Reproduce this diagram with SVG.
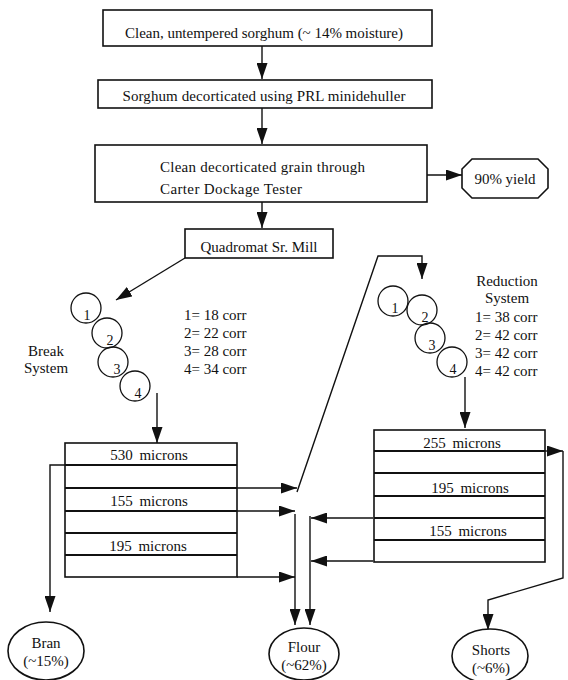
<svg xmlns="http://www.w3.org/2000/svg" width="568" height="680" viewBox="0 0 568 680">
<style>
text{font-family:"Liberation Serif","Times New Roman",serif;font-size:15px;fill:#111}
.b{fill:#fff;stroke:#111;stroke-width:1.6}
.c{fill:none;stroke:#111;stroke-width:1.3}
.l{fill:none;stroke:#111;stroke-width:1.4}
.r{stroke:#111;stroke-width:2.2}
.m{text-anchor:middle}
.n{font-size:14px;text-anchor:middle}
</style>
<defs>
<marker id="a" viewBox="0 0 16 11" refX="16" refY="5.5" markerWidth="16" markerHeight="11" markerUnits="userSpaceOnUse" orient="auto"><path d="M0,0L16,5.5L0,11z" fill="#111"/></marker>
</defs>
<rect width="568" height="680" fill="#fff"/>
<g id="connectors">
<path class="l" d="M262,46V79" marker-end="url(#a)"/>
<path class="l" d="M262,108V144" marker-end="url(#a)"/>
<path class="l" d="M427,175H462" marker-end="url(#a)"/>
<path class="l" d="M262,202V228" marker-end="url(#a)"/>
<path class="l" d="M185,258L116,300" marker-end="url(#a)"/>
<path class="l" d="M157,393V443" marker-end="url(#a)"/>
<path class="l" d="M65,465H50V612" marker-end="url(#a)"/>
<path class="l" d="M237,488H297" marker-end="url(#a)"/>
<path class="l" d="M237,511H295" marker-end="url(#a)"/>
<path class="l" d="M237,577H295" marker-end="url(#a)"/>
<path class="l" d="M297,492L378,256H422V279" marker-end="url(#a)"/>
<path class="l" d="M295,514V625" marker-end="url(#a)"/>
<path class="l" d="M310,516V625" marker-end="url(#a)"/>
<path class="l" d="M373,518H311" marker-end="url(#a)"/>
<path class="l" d="M373,561H311" marker-end="url(#a)"/>
<path class="l" d="M465,377V428" marker-end="url(#a)"/>
<path class="l" d="M545,451H563" marker-end="url(#a)"/>
<path class="l" d="M563,451V578L488,600V630" marker-end="url(#a)"/>
</g>
<g id="n1"><rect class="b" x="103" y="10" width="329" height="36"/><text x="264" y="38" class="m" textLength="278">Clean, untempered sorghum (~ 14% moisture)</text></g>
<g id="n2"><rect class="b" x="98" y="80" width="334" height="28"/><text x="264" y="101" class="m" textLength="283">Sorghum decorticated using PRL minidehuller</text></g>
<g id="n3"><rect class="b" x="95" y="145" width="332" height="57"/><text x="160" y="172" textLength="205">Clean decorticated grain through</text><text x="160" y="194" textLength="142">Carter Dockage Tester</text></g>
<g id="yield"><path class="b" d="M472,159H538L548,169V188L538,198H472L462,188V169Z"/><text x="505" y="184" class="m">90% yield</text></g>
<g id="mill"><rect class="b" x="185" y="229" width="148" height="29"/><text x="259" y="252" class="m">Quadromat Sr. Mill</text></g>
<g id="break">
<circle class="c" cx="86" cy="308" r="15"/><text x="87" y="320" class="n">1</text>
<circle class="c" cx="107" cy="333" r="15"/><text x="110" y="345" class="n">2</text>
<circle class="c" cx="113" cy="362" r="15"/><text x="117" y="374" class="n">3</text>
<circle class="c" cx="135" cy="386" r="15"/><text x="138" y="398" class="n">4</text>
<text x="46" y="356" class="m">Break</text><text x="46" y="373" class="m">System</text>
<text x="184" y="320">1= 18 corr</text><text x="184" y="338">2= 22 corr</text><text x="184" y="356">3= 28 corr</text><text x="184" y="374">4= 34 corr</text>
</g>
<g id="reduction">
<circle class="c" cx="393" cy="301" r="15"/><text x="395" y="313" class="n">1</text>
<circle class="c" cx="422" cy="310" r="15"/><text x="425" y="322" class="n">2</text>
<circle class="c" cx="430" cy="338" r="15"/><text x="432" y="350" class="n">3</text>
<circle class="c" cx="452" cy="362" r="15"/><text x="453" y="374" class="n">4</text>
<text x="507" y="286" class="m">Reduction</text><text x="507" y="303" class="m">System</text>
<text x="475" y="322">1= 38 corr</text><text x="475" y="340">2= 42 corr</text><text x="475" y="358">3= 42 corr</text><text x="475" y="376">4= 42 corr</text>
</g>
<g id="breaksieve">
<rect class="b" x="65" y="443" width="172" height="134"/>
<path class="r" d="M65,465H237M65,488H237M65,511H237M65,533H237M65,555H237"/>
<text x="149" y="460" class="m" word-spacing="3">530 microns</text>
<text x="149" y="506" class="m" word-spacing="3">155 microns</text>
<text x="148" y="551" class="m" word-spacing="3">195 microns</text>
</g>
<g id="redsieve">
<rect class="b" x="374" y="430" width="171" height="132"/>
<path class="r" d="M374,451H545M374,473H545M374,496H545M374,518H545M374,540H545"/>
<text x="462" y="448" class="m" word-spacing="3">255 microns</text>
<text x="470" y="493" class="m" word-spacing="3">195 microns</text>
<text x="468" y="536" class="m" word-spacing="3">155 microns</text>
</g>
<g id="bran"><ellipse class="b" cx="46" cy="651" rx="38" ry="29"/><text x="46" y="648" class="m">Bran</text><text x="46" y="666" class="m">(~15%)</text></g>
<g id="flour"><ellipse class="b" cx="304" cy="654" rx="35" ry="26"/><text x="304" y="652" class="m">Flour</text><text x="304" y="670" class="m">(~62%)</text></g>
<g id="shorts"><ellipse class="b" cx="490" cy="656" rx="38" ry="27"/><text x="491" y="655" class="m">Shorts</text><text x="491" y="673" class="m">(~6%)</text></g>
</svg>
